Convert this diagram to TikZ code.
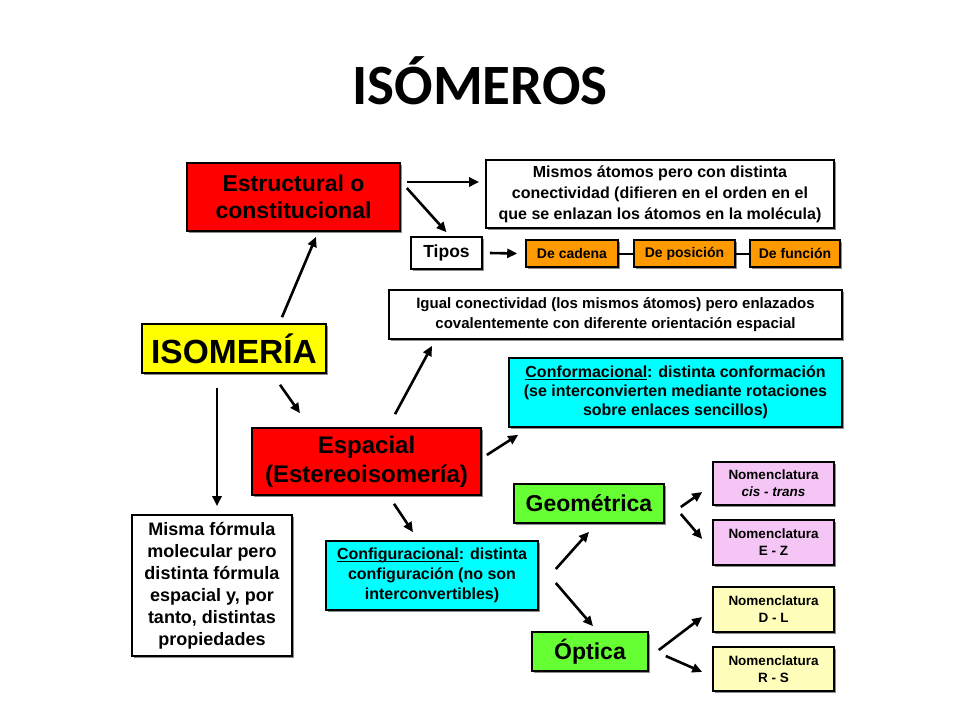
\documentclass[tikz,border=0pt]{standalone}
\usepackage{fontspec}
\setmainfont{Liberation Sans}
\newfontfamily\titlefont{Carlito}
\usetikzlibrary{arrows.meta,shadows,calc}
\definecolor{cred}{HTML}{FF0000}
\definecolor{cyel}{HTML}{FFFF00}
\definecolor{corg}{HTML}{FF9900}
\definecolor{ccyan}{HTML}{00FFFF}
\definecolor{cgreen}{HTML}{66FF33}
\definecolor{cpink}{HTML}{F5C6F5}
\definecolor{clyel}{HTML}{FFFFBB}
\newcommand{\myul}[1]{\setbox0\hbox{#1}\rlap{\rule[-2.6pt]{\wd0}{0.9pt}}\box0}
\tikzset{
  box/.style={draw=black, line width=1.6pt, rectangle, align=center, inner sep=0pt,
    drop shadow={shadow xshift=2pt, shadow yshift=-2pt, fill=black!45, opacity=1}},
  arr/.style={line width=2.6pt, -{Triangle[length=10pt,width=9pt]}},
  conn/.style={line width=2pt}
}
\begin{document}
\begin{tikzpicture}[x=1pt,y=-1pt]
\useasboundingbox (0,0) rectangle (960,720);
\fill[white] (0,0) rectangle (960,720);
% title
\node[anchor=base, font=\titlefont\bfseries\fontsize{57}{62}\selectfont] (title) at (480,104) {ISÓMEROS};
% boxes
\node[box, fill=cred, minimum width=213pt, minimum height=68pt, font=\bfseries\fontsize{23}{27}\selectfont] (estr) at (293.5,197) {Estructural o\\constitucional};
\node[box, fill=white, minimum width=348pt, minimum height=68pt, font=\bfseries\fontsize{16}{21}\selectfont] (mismos) at (660,194) {Mismos átomos pero con distinta\\conectividad (difieren en el orden en el\\que se enlazan los átomos en la molécula)};
\node[box, fill=white, minimum width=71pt, minimum height=32pt, font=\bfseries\fontsize{17.5}{20}\selectfont] (tipos) at (446.5,253) {Tipos};
\node[box, fill=corg, minimum width=92pt, minimum height=27pt, font=\bfseries\fontsize{14}{16}\selectfont] (cadena) at (572,253.5) {De cadena};
\node[box, fill=corg, minimum width=101pt, minimum height=27pt, font=\bfseries\fontsize{14}{16}\selectfont] (posicion) at (684.5,253.5) {De posición};
\node[box, fill=corg, minimum width=90pt, minimum height=27pt, font=\bfseries\fontsize{14}{16}\selectfont] (funcion) at (795,253.5) {De función};
\node[box, fill=white, minimum width=453pt, minimum height=49pt, font=\bfseries\fontsize{15}{20}\selectfont] (igual) at (615.5,314.5) {Igual conectividad (los mismos átomos) pero enlazados\\covalentemente con diferente orientación espacial};
\node[box, fill=cyel, minimum width=184pt, minimum height=49pt, font=\bfseries\fontsize{33.5}{36}\selectfont] (isom) at (234,348.5) {ISOMERÍA};
\node[box, fill=ccyan, minimum width=333pt, minimum height=69pt, font=\bfseries\fontsize{16}{19}\selectfont] (conf) at (675.5,392.5) {\myul{Conformacional}: distinta conformación\\(se interconvierten mediante rotaciones\\sobre enlaces sencillos)};
\node[box, fill=cred, minimum width=229pt, minimum height=67pt, font=\bfseries\fontsize{24}{29}\selectfont] (espa) at (366.5,461.5) {Espacial\\(Estereoisomería)};
\node[box, fill=cgreen, minimum width=150pt, minimum height=39pt, font=\bfseries\fontsize{23}{26}\selectfont] (geom) at (589,503.5) {Geométrica};
\node[box, fill=cpink, minimum width=121pt, minimum height=43pt, font=\bfseries\fontsize{13.5}{17}\selectfont] (cis) at (773.5,483.5) {Nomenclatura\\\textit{cis - trans}};
\node[box, fill=cpink, minimum width=121pt, minimum height=45pt, font=\bfseries\fontsize{13.5}{17}\selectfont] (ez) at (773.5,542.5) {Nomenclatura\\E - Z};
\node[box, fill=white, minimum width=160pt, minimum height=141pt, font=\bfseries\fontsize{18}{22}\selectfont] (misma) at (212,585.5) {Misma fórmula\\molecular pero\\distinta fórmula\\espacial y, por\\tanto, distintas\\propiedades};
\node[box, fill=ccyan, minimum width=212pt, minimum height=69pt, font=\bfseries\fontsize{16}{20}\selectfont] (config) at (432,575.5) {\myul{Configuracional}: distinta\\configuración (no son\\interconvertibles)};
\node[box, fill=cgreen, minimum width=116pt, minimum height=39pt, font=\bfseries\fontsize{23}{26}\selectfont] (opt) at (590,651.5) {Óptica};
\node[box, fill=clyel, minimum width=121pt, minimum height=45pt, font=\bfseries\fontsize{13.5}{17}\selectfont] (dl) at (773.5,609.5) {Nomenclatura\\D - L};
\node[box, fill=clyel, minimum width=121pt, minimum height=44pt, font=\bfseries\fontsize{13.5}{17}\selectfont] (rs) at (773.5,669) {Nomenclatura\\R - S};
% connectors
\draw[arr] ([shift={(48,-6)}]isom.north) -- ([shift={(22.5,5)}]estr.south);
\draw[arr] ([shift={(46,11)}]isom.south) -- ([shift={(-66.5,-14)}]espa.north);
\draw[arr] ([shift={(-17,14)}]isom.south) -- ([shift={(5,-8)}]misma.north);
\draw[arr] ([shift={(6,-15)}]estr.east) -- ([shift={(-6,-12)}]mismos.west);
\draw[arr] ([shift={(6,-9)}]estr.east) -- ([shift={(0,-4)}]tipos.north);
\draw[arr] ([shift={(7,0)}]tipos.east) -- ([shift={(-8,0)}]cadena.west);
\draw[conn] (cadena.east) -- (posicion.west);
\draw[conn] (posicion.east) -- (funcion.west);
\draw[arr] ([shift={(28.5,-13)}]espa.north) -- ([shift={(-183.5,6)}]igual.south);
\draw[arr] ([shift={(5,-6.5)}]espa.east) -- ([shift={(10,7)}]conf.south west);
\draw[arr] ([shift={(27.5,8)}]espa.south) -- ([shift={(-19,-8)}]config.north);
\draw[arr] ([shift={(17,-6.5)}]config.east) -- ([shift={(0,8)}]geom.south);
\draw[arr] ([shift={(17,7.5)}]config.east) -- ([shift={(3,-5)}]opt.north);
\draw[arr] ([shift={(16,3.5)}]geom.east) -- ([shift={(-10,8.5)}]cis.west);
\draw[arr] ([shift={(16,10.5)}]geom.east) -- ([shift={(-10,-3.5)}]ez.west);
\draw[arr] ([shift={(10,-1.5)}]opt.east) -- ([shift={(-10,7.5)}]dl.west);
\draw[arr] ([shift={(17,4.5)}]opt.east) -- ([shift={(-10,3)}]rs.west);
\end{tikzpicture}
\end{document}
